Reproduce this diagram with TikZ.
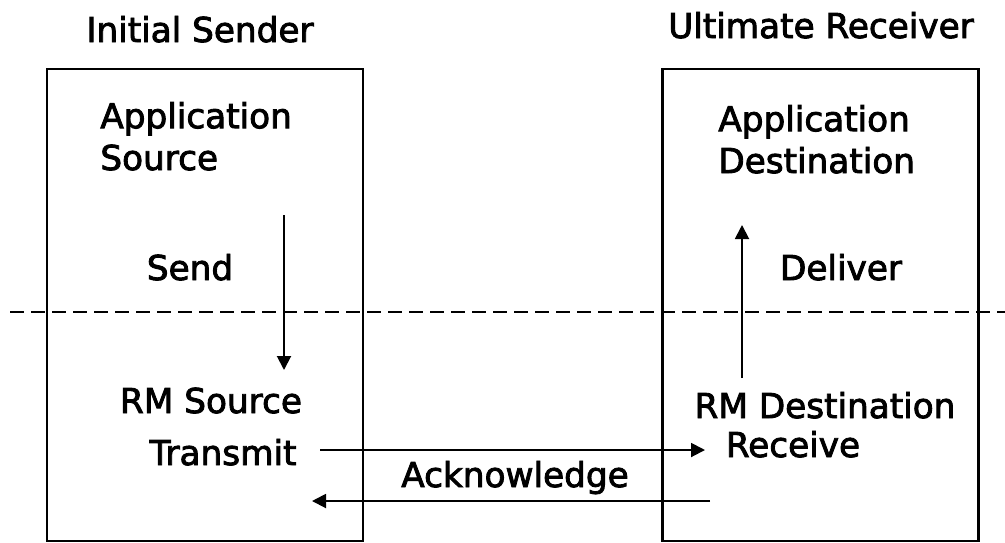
\documentclass[tikz,border=0pt]{standalone}
\usepackage{fontspec}
\setmainfont{DejaVu Sans}[FakeBold=2.5]
\usepackage{tikz}
\usetikzlibrary{arrows.meta}

\tikzset{
  party/.style={draw, line width=1.4pt, rectangle, minimum width=6.32cm, minimum height=9.44cm},
  txt/.style={inner sep=0pt, font=\fontsize{19.5}{23.8}\selectfont},
  arr/.style={line width=1.1pt, -{Triangle[length=0.28cm, width=0.28cm]}}
}

\begin{document}
\begin{tikzpicture}
        \useasboundingbox (0,0) rectangle (20.1,-10.84);
        % Boxes
        \node[party] (sender) at (4.10, -6.10) {};
        \node[party] (receiver) at (16.41, -6.10) {};

        % Layer boundary
        \draw[line width=1.3pt, dash pattern=on 0.27cm off 0.15cm] (0.2, -6.24) -- (20.1, -6.24);

        % Nodes
        \node[txt, anchor=base] (sendertitle) at (4.00, -0.84) {Initial Sender};
        \node[txt, anchor=base] (receivertitle) at (16.42, -0.76) {Ultimate Receiver};
        \node[txt, anchor=base west, align=left] (appsrc) at (2.00, -3.40) {Application\\Source};
        \node[txt, anchor=base west, align=left] (appdst) at (14.36, -3.46) {Application\\Destination};
        \node[txt, anchor=base] (send) at (3.80, -5.60) {Send};
        \node[txt, anchor=base] (deliver) at (16.82, -5.60) {Deliver};
        \node[txt, anchor=base] (rmsrc) at (4.22, -8.26) {RM Source};
        \node[txt, anchor=base] (transmit) at (4.46, -9.30) {Transmit};
        \node[txt, anchor=base] (rmdst) at (16.50, -8.36) {RM Destination};
        \node[txt, anchor=base] (receive) at (15.86, -9.14) {Receive};
        \node[txt, anchor=base] (ack) at (10.30, -9.74) {Acknowledge};

        % Arrow ends
        \coordinate (sendtop) at (5.68, -4.30);
        \coordinate (sendbot) at (5.68, -7.40);
        \coordinate (delbot) at (14.84, -7.56);
        \coordinate (deltop) at (14.84, -4.50);
        \coordinate (xmitstart) at (6.40, -9.00);
        \coordinate (xmitend) at (14.10, -9.00);
        \coordinate (ackstart) at (14.20, -10.02);
        \coordinate (ackend) at (6.24, -10.02);

        % Arrows
        \draw[arr] (sendtop) -- (sendbot);
        \draw[arr] (delbot) -- (deltop);
        \draw[arr] (xmitstart) -- (xmitend);
        \draw[arr] (ackstart) -- (ackend);
    \end{tikzpicture}
\end{document}
